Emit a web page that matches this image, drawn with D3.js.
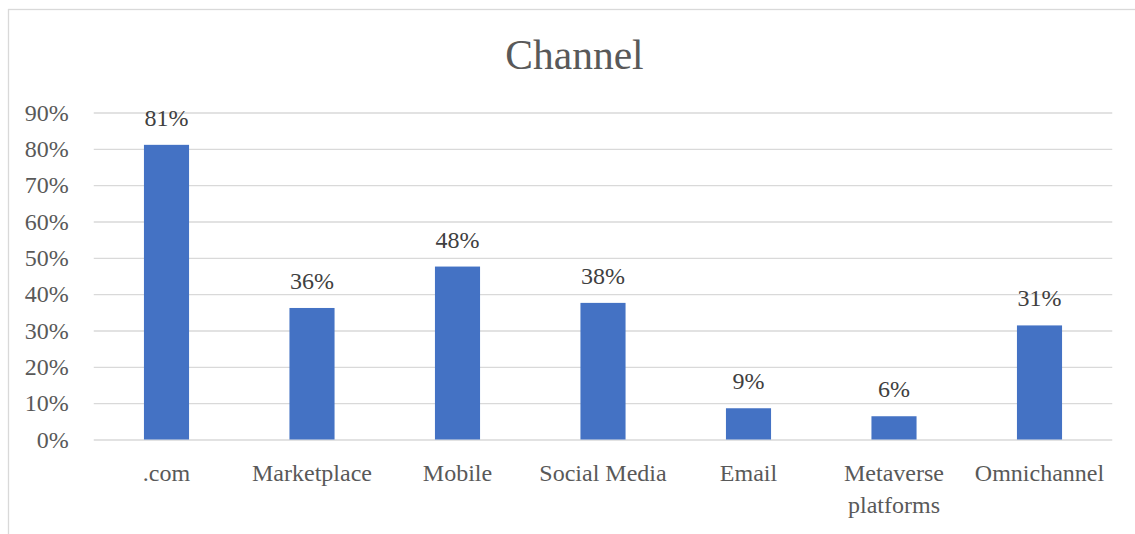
<!DOCTYPE html>
<html>
<head>
<meta charset="utf-8">
<script src="https://cdn.jsdelivr.net/npm/d3@7"></script>
<style>
  html, body { margin: 0; padding: 0; background: #fff; }
  svg { display: block; }
  text { font-family: "Liberation Serif", "DejaVu Serif", serif; }
</style>
</head>
<body>
<svg id="chart" width="1135" height="534"></svg>
<script>
// Share of respondents by sales channel
const categories = [".com", "Marketplace", "Mobile", "Social Media", "Email", "Metaverse platforms", "Omnichannel"];
const shares = [0.811, 0.362, 0.476, 0.376, 0.086, 0.064, 0.314];
const yTicks = [0, 0.1, 0.2, 0.3, 0.4, 0.5, 0.6, 0.7, 0.8, 0.9];
const chartTitle = "Channel";

const svg = d3.select("#chart");
const W = 1135, H = 534;

// chart frame (extends past the right and bottom edges)
const frame = { x: 8.5, y: 9.5, width: 1132 };
svg.append("rect")
  .attr("x", frame.x).attr("y", frame.y)
  .attr("width", W).attr("height", H)
  .attr("fill", "#fff")
  .attr("stroke", "#d9d9d9")
  .attr("stroke-width", 1.3);

const plot = { left: 93.75, right: 1112.25, top: 112.5, bottom: 439.5 };

const x = d3.scaleBand()
  .domain(categories)
  .range([plot.left, plot.right])
  .paddingInner(0.69)
  .paddingOuter(0.345);

const y = d3.scaleLinear()
  .domain([0, 0.9])
  .range([plot.bottom, plot.top]);

// title, centred on the chart frame
svg.append("text")
  .attr("x", frame.x + frame.width / 2)
  .attr("y", 69)
  .attr("text-anchor", "middle")
  .attr("fill", "#595959")
  .attr("font-size", 41.5)
  .text(chartTitle);

// horizontal gridlines + percentage labels
const yAxis = d3.axisLeft(y)
  .tickValues(yTicks)
  .tickFormat(d3.format(".0%"))
  .tickSize(-(plot.right - plot.left))
  .tickPadding(25);

const gy = svg.append("g")
  .attr("transform", `translate(${plot.left},0)`)
  .call(yAxis);
gy.select(".domain").remove();
gy.selectAll(".tick line")
  .attr("stroke", "#d9d9d9")
  .attr("stroke-width", 1.3);
gy.selectAll(".tick text")
  .attr("fill", "#595959")
  .attr("font-size", 24)
  .attr("font-family", "Liberation Serif, DejaVu Serif, serif");

// bars
svg.append("g")
  .selectAll("rect")
  .data(categories)
  .join("rect")
  .attr("x", d => x(d))
  .attr("width", x.bandwidth())
  .attr("y", (d, i) => y(shares[i]))
  .attr("height", (d, i) => y(0) - y(shares[i]))
  .attr("fill", "#4472c4");

// value labels
const pct = d3.format(".0%");
svg.append("g")
  .selectAll("text")
  .data(categories)
  .join("text")
  .attr("x", d => x(d) + x.bandwidth() / 2)
  .attr("y", (d, i) => y(shares[i]) - 19)
  .attr("text-anchor", "middle")
  .attr("fill", "#404040")
  .attr("font-size", 24)
  .text((d, i) => pct(shares[i]));

// category labels, wrapped to the band step
const xAxis = d3.axisBottom(x).tickSize(0).tickPadding(0);
const gx = svg.append("g")
  .attr("transform", `translate(0,${plot.bottom})`)
  .call(xAxis);
gx.select(".domain").remove();
gx.selectAll(".tick text")
  .attr("fill", "#595959")
  .attr("font-size", 24)
  .attr("font-family", "Liberation Serif, DejaVu Serif, serif")
  .attr("y", 0)
  .attr("dy", 0)
  .each(function(d) {
    const t = d3.select(this);
    const words = d.split(/\s+/);
    const maxW = x.step();
    t.text(null);
    let lines = [];
    let line = [];
    const probe = t.append("tspan");
    words.forEach(w => {
      line.push(w);
      probe.text(line.join(" "));
      if (probe.node().getComputedTextLength() > maxW && line.length > 1) {
        line.pop();
        lines.push(line.join(" "));
        line = [w];
      }
    });
    lines.push(line.join(" "));
    probe.remove();
    lines.forEach((l, i) => {
      t.append("tspan")
        .attr("x", 0)
        .attr("y", 41 + i * 32)
        .text(l);
    });
  });
</script>
</body>
</html>
